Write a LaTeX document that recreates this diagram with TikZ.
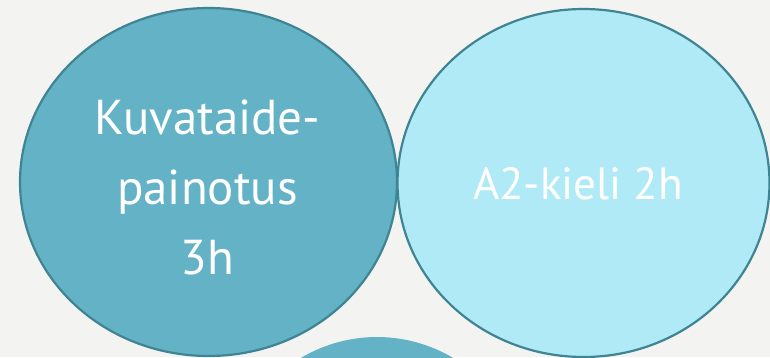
\documentclass[tikz,border=0pt]{standalone}
\usepackage{fontspec}
\setmainfont{PT Sans}
\definecolor{bg}{HTML}{F3F3F1}
\definecolor{darkfill}{HTML}{63B2C6}
\definecolor{lightfill}{HTML}{B0EAF6}
\definecolor{rim}{HTML}{3F8493}
\tikzset{
  blob/.style={ellipse, draw=rim, line width=2.2pt, minimum width=377pt, minimum height=348pt, inner sep=0pt},
  lbl/.style={text=white, align=center}
}
\usetikzlibrary{shapes.geometric}
\begin{document}
\begin{tikzpicture}[x=1pt,y=-1pt]
\fill[bg] (0,0) rectangle (770,357);
\useasboundingbox (0,0) rectangle (770,357);
\node[blob, fill=darkfill, draw=none, minimum width=320pt] (c) at (377,511) {};
\node[blob, fill=darkfill] (a) at (208.5,182) {};
\node[blob, fill=lightfill, minimum width=372pt] (b) at (583.5,183) {};
\node[lbl, font=\fontsize{49}{70}\selectfont] (ta) at (207.5,187) {Kuvataide-\\painotus\\3h};
\node[lbl, font=\fontsize{45}{50}\selectfont] (tb) at (578,184) {A2-kieli 2h};
\end{tikzpicture}
\end{document}
